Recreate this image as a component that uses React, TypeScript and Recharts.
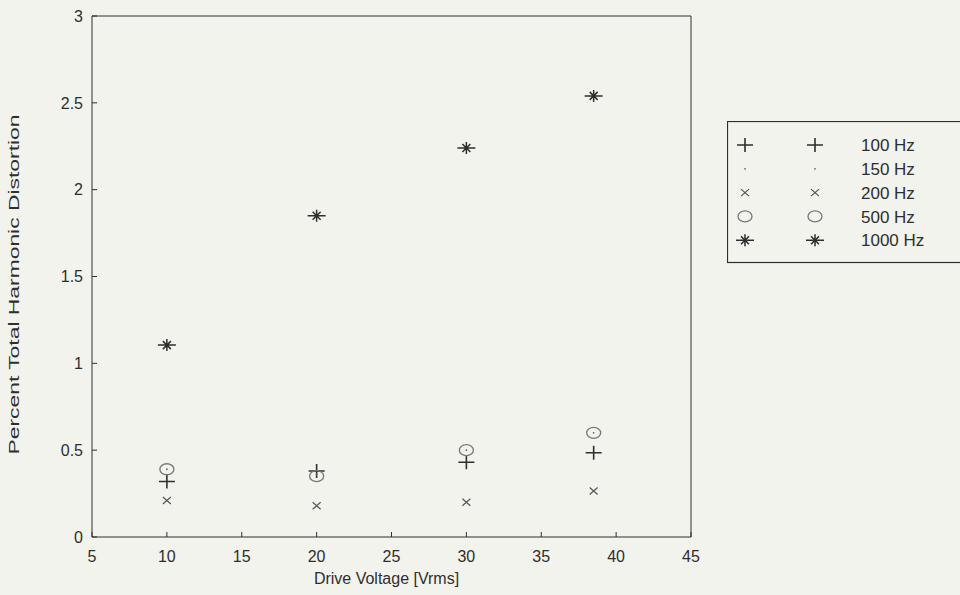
import React from "react"
import { ScatterChart, Scatter, XAxis, YAxis } from "recharts"

// drive voltage points [Vrms]
const voltages = [10, 20, 30, 38.5]

// percent THD for each test frequency
const thd100 = [0.32, 0.38, 0.43, 0.485]
const thd150 = [0.39, 0.36, 0.5, 0.6]
const thd200 = [0.21, 0.18, 0.2, 0.265]
const thd500 = [0.39, 0.35, 0.5, 0.6]
const thd1000 = [1.105, 1.85, 2.24, 2.54]

const xTicks = [5, 10, 15, 20, 25, 30, 35, 40, 45]
const yTicks = [0, 0.5, 1, 1.5, 2, 2.5, 3]

const FONT = "'Liberation Sans', Arial, sans-serif"
const INK = "#2e2e2e"
const BG = "#f3f3ee"

const toPoints = (vals: number[]) => voltages.map((v, i) => ({ x: v, y: vals[i] }))

// marker shapes (MATLAB style)
const Plus = ({ cx, cy }: any) => (
    <path d={`M${cx - 8},${cy}H${cx + 8}M${cx},${cy - 7}V${cy + 7}`} stroke={INK} strokeWidth={1.6} fill="none" />
)
const Dot = ({ cx, cy }: any) => <circle cx={cx} cy={cy} r={0.9} fill="#666" />
const Cross = ({ cx, cy }: any) => (
    <path d={`M${cx - 4},${cy - 3.5}L${cx + 4},${cy + 3.5}M${cx - 4},${cy + 3.5}L${cx + 4},${cy - 3.5}`} stroke="#555" strokeWidth={1.2} fill="none" />
)
const Ring = ({ cx, cy }: any) => (
    <ellipse cx={cx} cy={cy} rx={7} ry={5.5} stroke="#777" strokeWidth={1.3} fill="none" />
)
const Star = ({ cx, cy }: any) => (
    <path
        d={`M${cx - 9},${cy}H${cx + 9}M${cx},${cy - 6}V${cy + 6}M${cx - 4},${cy - 4}L${cx + 4},${cy + 4}M${cx - 4},${cy + 4}L${cx + 4},${cy - 4}`}
        stroke={INK}
        strokeWidth={1.5}
        fill="none"
    />
)

const series = [
    { name: "100 Hz", data: thd100, Shape: Plus },
    { name: "150 Hz", data: thd150, Shape: Dot },
    { name: "200 Hz", data: thd200, Shape: Cross },
    { name: "500 Hz", data: thd500, Shape: Ring },
    { name: "1000 Hz", data: thd1000, Shape: Star },
]

const LeftTick = ({ x, y, payload }: any) => (
    <g>
        <line x1={x} x2={x + 5} y1={y} y2={y} stroke={INK} />
        <text x={x - 9} y={y} dy="0.36em" textAnchor="end" fontSize={16} fontFamily={FONT} fill={INK}>
            {payload.value}
        </text>
    </g>
)
const RightTick = ({ x, y }: any) => <line x1={x} x2={x - 5} y1={y} y2={y} stroke={INK} />
const BottomTick = ({ x, y, payload }: any) => (
    <g>
        <line x1={x} x2={x} y1={y} y2={y - 5} stroke={INK} />
        <text x={x} y={y + 25} textAnchor="middle" fontSize={16} fontFamily={FONT} fill={INK}>
            {payload.value}
        </text>
    </g>
)
const TopTick = ({ x, y }: any) => <line x1={x} x2={x} y1={y} y2={y + 5} stroke={INK} />

const YTitle = ({ viewBox }: any) => {
    const x = viewBox.x + 19
    const y = viewBox.y + viewBox.height / 2 + 8
    return (
        <text
            x={x}
            y={y}
            transform={`rotate(-90, ${x}, ${y})`}
            textAnchor="middle"
            fontSize={14}
            fontFamily={FONT}
            fill={INK}
            textLength={340}
            lengthAdjust="spacingAndGlyphs"
        >
            Percent Total Harmonic Distortion
        </text>
    )
}

const XTitle = ({ viewBox }: any) => (
    <text x={viewBox.x + viewBox.width / 2 - 5} y={viewBox.y + 47} textAnchor="middle" fontSize={16} fontFamily={FONT} fill={INK}>
        Drive Voltage [Vrms]
    </text>
)

const LegendBox = () => (
    <svg width={240} height={145} style={{ display: "block" }}>
        <rect x={0.5} y={0.5} width={260} height={141} fill={BG} stroke={INK} strokeWidth={1.2} />
        {series.map(({ name, Shape }, i) => {
            const cy = 24 + i * 23.8
            return (
                <g key={name}>
                    <Shape cx={18} cy={cy} />
                    <Shape cx={88} cy={cy} />
                    <text x={134} y={cy} dy="0.36em" fontSize={17} fontFamily={FONT} fill={INK}>
                        {name}
                    </text>
                </g>
            )
        })}
    </svg>
)

export default function App() {
    return (
        <div style={{ position: "absolute", left: 0, top: 0, width: 960, height: 595, background: BG, overflow: "hidden" }}>
            <ScatterChart width={960} height={595} margin={{ top: 15, right: 268, bottom: 0, left: 0 }}>
                <XAxis
                    dataKey="x"
                    type="number"
                    domain={[5, 45]}
                    ticks={xTicks}
                    height={58}
                    tickSize={0}
                    tickMargin={0}
                    tickLine={false}
                    tick={<BottomTick />}
                    stroke={INK}
                    label={<XTitle />}
                />
                <XAxis
                    xAxisId="top"
                    orientation="top"
                    type="number"
                    domain={[5, 45]}
                    ticks={xTicks}
                    height={1}
                    tickSize={0}
                    tickMargin={0}
                    tickLine={false}
                    tick={<TopTick />}
                    stroke={INK}
                />
                <YAxis
                    dataKey="y"
                    type="number"
                    domain={[0, 3]}
                    ticks={yTicks}
                    width={92}
                    tickSize={0}
                    tickMargin={0}
                    tickLine={false}
                    tick={<LeftTick />}
                    stroke={INK}
                    label={<YTitle />}
                />
                <YAxis
                    yAxisId="right"
                    orientation="right"
                    type="number"
                    domain={[0, 3]}
                    ticks={yTicks}
                    width={1}
                    tickSize={0}
                    tickMargin={0}
                    tickLine={false}
                    tick={<RightTick />}
                    stroke={INK}
                />
                {series.map(({ name, data, Shape }) => (
                    <Scatter key={name} name={name} data={toPoints(data)} shape={(p: any) => <Shape cx={p.cx} cy={p.cy} />} isAnimationActive={false} />
                ))}
            </ScatterChart>
            <div style={{ position: "absolute", left: 727, top: 121 }}>
                <LegendBox />
            </div>
        </div>
    )
}
